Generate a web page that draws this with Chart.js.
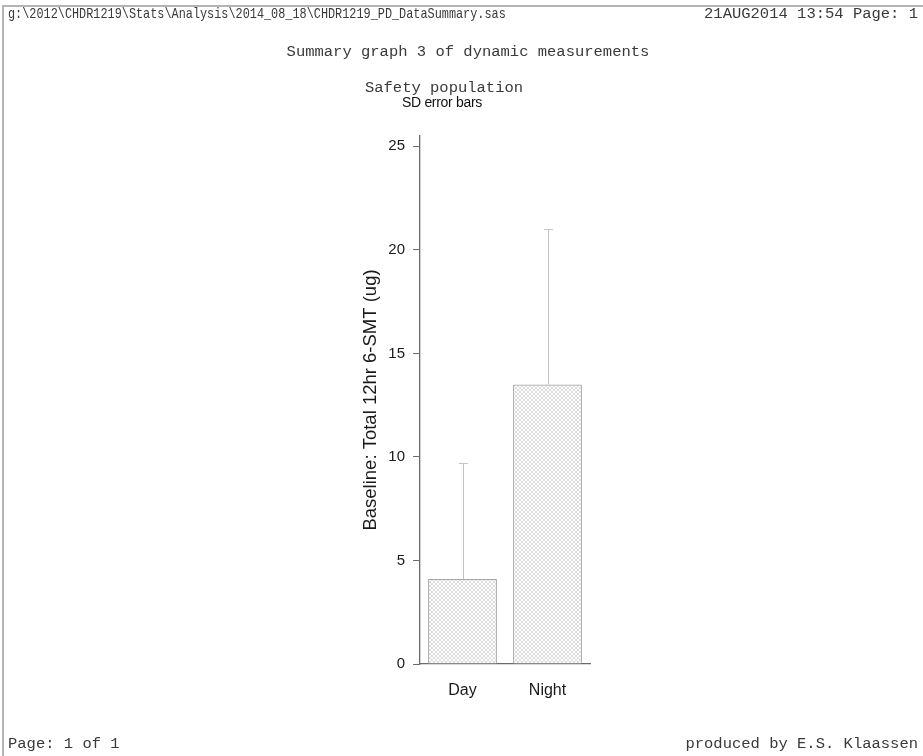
<!DOCTYPE html>
<html>
<head>
<meta charset="utf-8">
<script src="https://cdn.jsdelivr.net/npm/chart.js@4/dist/chart.umd.min.js"></script>
<style>
  html, body { margin: 0; padding: 0; background: #fff; }
  #page { position: relative; width: 923px; height: 756px; overflow: hidden; }
  #frame { position: absolute; left: 2px; top: 5px; width: 930px; height: 800px;
           border-left: 2px solid #b4b4b4; border-top: 2px solid #b4b4b4; }
  .mono { position: absolute; font-family: "Liberation Mono", "Courier New", monospace; color: #3a3a3a;
          white-space: nowrap; line-height: 1; }
  .sans { position: absolute; font-family: "Liberation Sans", Arial, sans-serif; color: #111;
          white-space: nowrap; line-height: 1; }
  #wrap { position: absolute; left: 0; top: 0; width: 923px; height: 756px; }
</style>
</head>
<body>
<div id="page">
  <div id="frame"></div>
  <div id="wrap"><canvas id="c"></canvas></div>
  <div class="mono" id="path" style="left:8px; top:7px; font-size:15px; transform:scaleX(0.79); transform-origin:0 0;">g:\2012\CHDR1219\Stats\Analysis\2014_08_18\CHDR1219_PD_DataSummary.sas</div>
  <div class="mono" style="right:5px; top:7px; font-size:15.5px;">21AUG2014 13:54 Page: 1</div>
  <div class="mono" style="left:0; width:936px; text-align:center; top:45px; font-size:15.5px;">Summary graph 3 of dynamic measurements</div>
  <div class="mono" style="left:0; width:888px; text-align:center; top:81px; font-size:15.5px;">Safety population</div>
  <div class="sans" style="left:0; width:884px; text-align:center; top:95px; font-size:14px; letter-spacing:-0.3px;">SD error bars</div>
  <div class="mono" style="left:8px; top:737px; font-size:15.5px;">Page: 1 of 1</div>
  <div class="mono" style="right:5px; top:737px; font-size:15.5px;">produced by E.S. Klaassen</div>
</div>
<script>
// ---- data ----
const categories = ["Day", "Night"];
const meanValues = [4.1, 13.5];
const sdValues = [5.6, 7.5];
const yTickValues = [0, 5, 10, 15, 20, 25];
const yAxisTitle = "Baseline: Total 12hr 6-SMT (ug)";

// cross-hatch fill pattern
function makePattern() {
  const p = document.createElement('canvas');
  p.width = 4; p.height = 4;
  const g = p.getContext('2d');
  g.fillStyle = '#ffffff';
  g.fillRect(0, 0, 4, 4);
  g.fillStyle = '#dcdcdc';
  for (let i = 0; i < 4; i++) {
    g.fillRect(i, i, 1, 1);
    g.fillRect(3 - i, i, 1, 1);
  }
  return g.createPattern(p, 'repeat');
}

const errorBarPlugin = {
  id: 'errorBars',
  afterDatasetsDraw(chart) {
    const ctx = chart.ctx;
    const meta = chart.getDatasetMeta(0);
    const y = chart.scales.y;
    ctx.save();
    ctx.strokeStyle = '#c4c4c4';
    ctx.lineWidth = 1;
    meta.data.forEach((bar, i) => {
      const x = Math.round(bar.x) + 0.5;
      const yMean = y.getPixelForValue(meanValues[i]);
      const yTop = Math.round(y.getPixelForValue(meanValues[i] + sdValues[i])) + 0.5;
      ctx.beginPath();
      ctx.moveTo(x, yMean);
      ctx.lineTo(x, yTop);
      ctx.moveTo(x - 4.5, yTop);
      ctx.lineTo(x + 4.5, yTop);
      ctx.stroke();
    });
    ctx.restore();
  }
};

Chart.defaults.font.family = '"Liberation Sans", Arial, sans-serif';
Chart.defaults.color = '#1a1a1a';

new Chart(document.getElementById('c'), {
  type: 'bar',
  data: {
    labels: categories,
    datasets: [{
      data: meanValues,
      backgroundColor: makePattern(),
      borderColor: '#a6a6a6',
      borderWidth: 1.2,
      borderSkipped: 'bottom',
      categoryPercentage: 1.0,
      barPercentage: 0.81
    }]
  },
  options: {
    responsive: true,
    maintainAspectRatio: false,
    animation: false,
    events: [],
    layout: { padding: { left: 360, right: 333, top: 136, bottom: 52 } },
    plugins: { legend: { display: false }, tooltip: { enabled: false }, title: { display: false } },
    scales: {
      x: {
        type: 'category',
        offset: true,
        afterFit(s) { s.height = 40; },
        grid: { display: true, drawOnChartArea: false, drawTicks: false },
        border: { display: true, color: '#6a6a6a', width: 1.3 },
        ticks: { font: { size: 16 }, padding: 17, color: '#1a1a1a' }
      },
      y: {
        min: 0,
        max: 25.5,
        afterFit(s) { s.width = 60; },
        afterBuildTicks(s) { s.ticks = yTickValues.map(v => ({ value: v })); },
        grid: { display: true, drawOnChartArea: false, drawTicks: true, tickLength: 7, color: '#6a6a6a' },
        border: { display: true, color: '#6a6a6a', width: 1.3 },
        ticks: { font: { size: 15 }, padding: 8, color: '#1a1a1a' },
        title: { display: true, text: yAxisTitle, font: { size: 18.5 }, padding: { top: 0, bottom: 0 }, color: '#1a1a1a' }
      }
    }
  },
  plugins: [errorBarPlugin]
});
</script>
</body>
</html>
